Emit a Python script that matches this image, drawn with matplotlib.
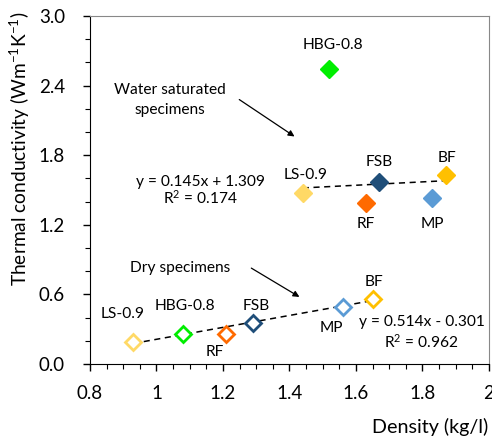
import matplotlib.pyplot as plt
import numpy as np
from matplotlib.ticker import MultipleLocator

plt.rcParams['font.family'] = ['Lato', 'DejaVu Sans']
plt.rcParams['mathtext.default'] = 'regular'

# datos
names = ['LS-0.9', 'HBG-0.8', 'RF', 'FSB', 'MP', 'BF']
colors = ['#FFD966', '#00EE00', '#FF6A00', '#1F4E79', '#5B9BD5', '#FFC000']

wet_density = [1.44, 1.52, 1.63, 1.67, 1.83, 1.87]
wet_k = [1.47, 2.54, 1.39, 1.57, 1.43, 1.63]

dry_density = [0.93, 1.08, 1.21, 1.29, 1.56, 1.65]
dry_k = [0.19, 0.26, 0.26, 0.35, 0.49, 0.56]

wet_fit = (0.145, 1.309, 0.174)
dry_fit = (0.514, -0.301, 0.962)

# posicion de las etiquetas (dx, dy) respecto al punto
wet_offsets = [(0.007, 0.16), (0.012, 0.21), (0.0, -0.18), (0.0, 0.17), (0.0, -0.22), (0.003, 0.15)]
dry_offsets = [(-0.032, 0.24), (0.006, 0.24), (-0.034, -0.16), (0.009, 0.15), (-0.035, -0.18), (0.005, 0.15)]

fs_txt = 11.2

fig = plt.figure(figsize=(4.92, 4.38), dpi=100)
ax = fig.add_axes([90 / 492, (438 - 364) / 438, (489 - 90) / 492, (364 - 16) / 438])

# lineas de tendencia
for dens, k, fit in [(wet_density, wet_k, wet_fit), (dry_density, dry_k, dry_fit)]:
    xs = np.array([min(dens), max(dens)])
    ax.plot(xs, fit[0] * xs + fit[1], color='black', lw=1.1, ls=(0, (4, 3)), zorder=2)

for i in range(len(names)):
    ax.plot(wet_density[i], wet_k[i], marker='D', ms=9.5, color=colors[i],
            mec=colors[i], ls='none', zorder=3)
    ax.plot(dry_density[i], dry_k[i], marker='D', ms=8.5, mfc='white',
            mec=colors[i], mew=2, ls='none', zorder=3)
    ax.text(wet_density[i] + wet_offsets[i][0], wet_k[i] + wet_offsets[i][1], names[i],
            ha='center', va='center', fontsize=fs_txt)
    ax.text(dry_density[i] + dry_offsets[i][0], dry_k[i] + dry_offsets[i][1], names[i],
            ha='center', va='center', fontsize=fs_txt)

ax.text(1.133, 1.572, 'y = %.3fx + %.3f' % (wet_fit[0], wet_fit[1]), ha='center', va='center', fontsize=fs_txt)
ax.text(1.133, 1.437, 'R$^2$ = %.3f' % wet_fit[2], ha='center', va='center', fontsize=fs_txt)
ax.text(1.797, 0.365, 'y = %.3fx - %.3f' % (dry_fit[0], -dry_fit[1]), ha='center', va='center', fontsize=fs_txt)
ax.text(1.797, 0.192, 'R$^2$ = %.3f' % dry_fit[2], ha='center', va='center', fontsize=fs_txt)

ax.text(1.04, 2.36, 'Water saturated', ha='center', va='center', fontsize=fs_txt)
ax.text(1.04, 2.19, 'specimens', ha='center', va='center', fontsize=fs_txt)
ax.text(1.071, 0.83, 'Dry specimens', ha='center', va='center', fontsize=fs_txt)

ax.annotate('', xy=(1.422, 1.948), xytext=(1.242, 2.293),
            arrowprops=dict(arrowstyle='-|>', color='black', lw=0.9, mutation_scale=9))
ax.annotate('', xy=(1.437, 0.566), xytext=(1.278, 0.839),
            arrowprops=dict(arrowstyle='-|>', color='black', lw=0.9, mutation_scale=9))

ax.set_xlim(0.8, 2.0)
ax.set_ylim(0, 3.0)
ax.xaxis.set_minor_locator(MultipleLocator(0.05))
ax.yaxis.set_major_locator(MultipleLocator(0.6))
ax.yaxis.set_minor_locator(MultipleLocator(0.2))
ax.set_xticks([0.8, 1.0, 1.2, 1.4, 1.6, 1.8, 2.0])
ax.set_xticklabels(['0.8', '1', '1.2', '1.4', '1.6', '1.8', '2'])
ax.set_yticks([0.0, 0.6, 1.2, 1.8, 2.4, 3.0])
ax.set_yticklabels(['0.0', '0.6', '1.2', '1.8', '2.4', '3.0'])
ax.tick_params(which='major', direction='out', length=5, width=1, labelsize=13.5)
ax.tick_params(axis='y', which='major', pad=13)
ax.tick_params(axis='x', which='major', pad=10)
ax.tick_params(which='minor', direction='out', length=3.3, width=0.8)
ax.spines['top'].set_color('#888888')
ax.spines['right'].set_color('#888888')

ax.set_xlabel('Density (kg/l)', fontsize=14.2, va='center', ha='center')
ax.xaxis.set_label_coords(0.852, -0.181)
ax.set_ylabel('Thermal conductivity (Wm$^{-1}$K$^{-1}$)', fontsize=13.8, va='center', ha='center')
ax.yaxis.set_label_coords(-0.175, 0.619)

fig.savefig('out.png', dpi=100)
